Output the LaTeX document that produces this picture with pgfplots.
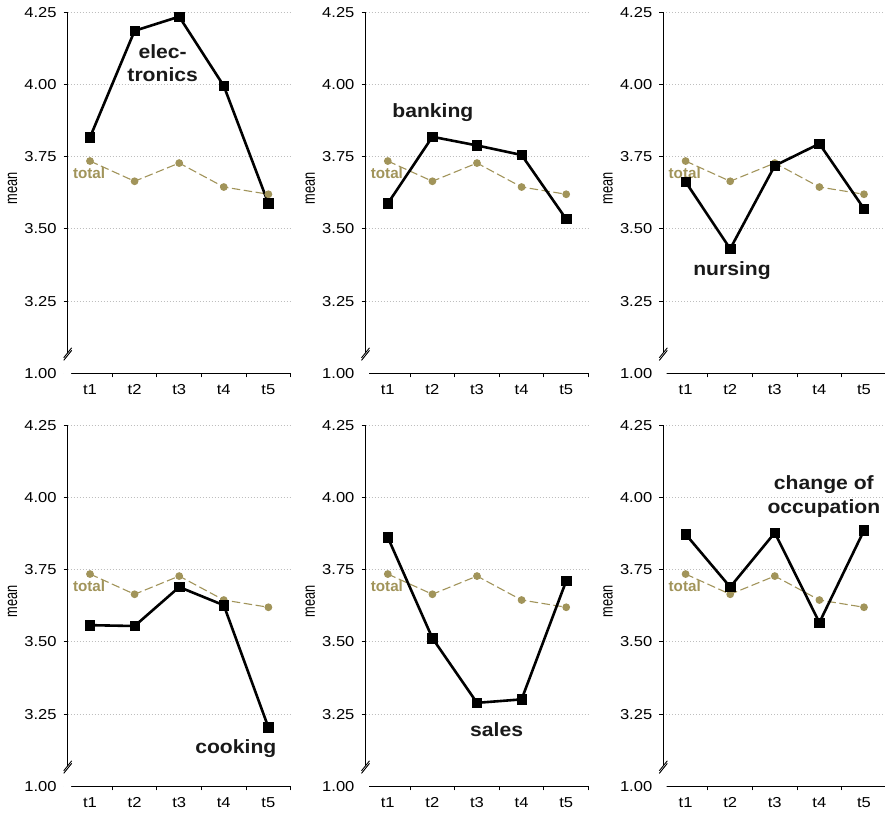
\documentclass[border=0pt]{standalone}
\usepackage{pgfplots}
\pgfplotsset{compat=1.18}
\usepackage{pgfplotstable}
\usepackage{fontspec}
\setmainfont{Liberation Sans}
\newfontfamily\tickfont{Liberation Sans}[FakeStretch=1.15]
\newfontfamily\labfont{Liberation Sans}[FakeStretch=1.1]
\definecolor{olivec}{RGB}{161,148,90}
\definecolor{gridc}{RGB}{190,190,190}

\pgfplotstableread{
t total electronics banking nursing cooking sales change
1 3.735 3.817 3.588 3.663 3.558 3.862 3.873
2 3.665 4.186 3.819 3.431 3.555 3.513 3.690
3 3.728 4.235 3.789 3.719 3.690 3.289 3.878
4 3.645 3.995 3.756 3.795 3.627 3.301 3.567
5 3.620 3.588 3.534 3.570 3.204 3.711 3.886
}\data

\pgfplotsset{
  panel/.style={
    scale only axis, width=111.5pt, height=180.5pt, anchor=south west,
    xmin=0.5, xmax=5.5, ymin=3, ymax=4.25, clip=false,
    axis x line*=bottom, axis y line*=left,
    axis line style={-, line width=0.5pt},
    xtick={1,2,3,4,5}, xticklabels={t1,t2,t3,t4,t5},
    major x tick style={draw=none},
    minor xtick={0.5,1.5,2.5,3.5,4.5,5.5},
    minor x tick style={line width=0.5pt, black},
    ytick={3,3.25,3.5,3.75,4,4.25},
    yticklabels={1.00,3.25,3.50,3.75,4.00,4.25},
    major y tick style={line width=0.5pt, black},
    tick align=outside, major tick length=2pt, minor tick length=2pt,
    ymajorgrids, grid style={gridc, line width=0.55pt, dash pattern=on 0.5pt off 1pt},
    tick label style={font=\tickfont\fontsize{7.2}{8.5}\selectfont},
    /pgf/number format/assume math mode=true,
    ylabel={\scalebox{1}[1.35]{mean}},
    every axis y label/.style={at={(axis description cs:-0.2475,0.512)}, rotate=90, anchor=center, font=\fontsize{6.4}{7}\selectfont},
  },
  totstyle/.style={olivec, line width=0.55pt, dash pattern=on 4.2pt off 1.8pt, mark=*, mark size=1.65pt, mark options={solid, fill=olivec, draw=olivec}},
  grpstyle/.style={black, line width=1.3pt, mark=square*, mark size=2.35pt, mark options={solid, line width=0.3pt}},
}
\tikzset{
  lab/.style={font=\labfont\bfseries\fontsize{9.6}{11.8}\selectfont, align=center, text=black!90},
  totlab/.style={font=\bfseries\fontsize{7.6}{8}\selectfont, text=olivec},
}

\newcommand{\brk}{%
  \fill[white] (axis cs:0.5,3.069) ++(-2pt,-2.3pt) -- ++(4pt,5pt) -- ++(0,-1.3pt) -- ++(-4pt,-5pt) -- cycle;
  \draw[line width=0.45pt] (axis cs:0.5,3.069) ++(-2pt,-2.2pt) -- ++(4pt,5pt);
  \draw[line width=0.45pt] (axis cs:0.5,3.069) ++(-2pt,-3.5pt) -- ++(4pt,5pt);
}

\begin{document}
\begin{tikzpicture}
\path[use as bounding box] (0,0) rectangle (442.5pt,408pt);

% electronics
\begin{axis}[panel, at={(33.85pt,221.35pt)}]
\addplot[totstyle] table[x=t,y=total]{\data};
\addplot[grpstyle] table[x=t,y=electronics]{\data};
\node[lab] at (axis cs:2.63,4.074) {elec-\\tronics};
\node[totlab] at (axis cs:0.98,3.692) {total};
\brk
\end{axis}

% banking
\begin{axis}[panel, at={(182.75pt,221.35pt)}]
\addplot[totstyle] table[x=t,y=total]{\data};
\addplot[grpstyle] table[x=t,y=banking]{\data};
\node[lab] at (axis cs:2.01,3.902) {banking};
\node[totlab] at (axis cs:0.98,3.692) {total};
\brk
\end{axis}

% nursing
\begin{axis}[panel, at={(331.65pt,221.35pt)}]
\addplot[totstyle] table[x=t,y=total]{\data};
\addplot[grpstyle] table[x=t,y=nursing]{\data};
\node[lab] at (axis cs:2.04,3.355) {nursing};
\node[totlab] at (axis cs:0.98,3.692) {total};
\brk
\end{axis}

% cooking
\begin{axis}[panel, at={(33.85pt,14.85pt)}]
\addplot[totstyle] table[x=t,y=total]{\data};
\addplot[grpstyle] table[x=t,y=cooking]{\data};
\node[lab] at (axis cs:4.27,3.132) {cooking};
\node[totlab] at (axis cs:0.98,3.692) {total};
\brk
\end{axis}

% sales
\begin{axis}[panel, at={(182.75pt,14.85pt)}]
\addplot[totstyle] table[x=t,y=total]{\data};
\addplot[grpstyle] table[x=t,y=sales]{\data};
\node[lab] at (axis cs:3.44,3.197) {sales};
\node[totlab] at (axis cs:0.98,3.692) {total};
\brk
\end{axis}

% change of occupation
\begin{axis}[panel, at={(331.65pt,14.85pt)}]
\addplot[totstyle] table[x=t,y=total]{\data};
\addplot[grpstyle] table[x=t,y=change]{\data};
\node[lab] at (axis cs:4.1,4.004) {change of\\occupation};
\node[totlab] at (axis cs:0.98,3.692) {total};
\brk
\end{axis}
\end{tikzpicture}
\end{document}
